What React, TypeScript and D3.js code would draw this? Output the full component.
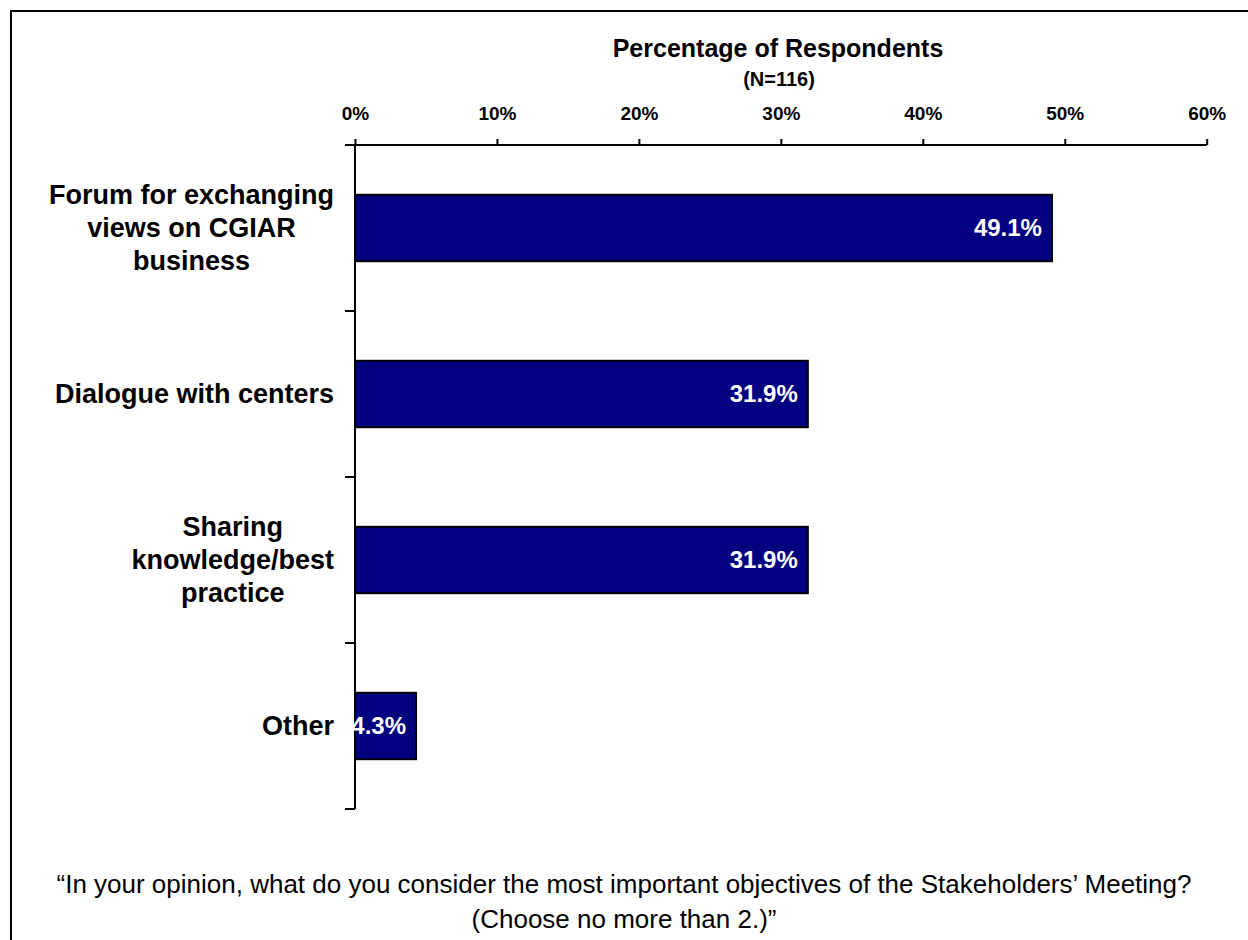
import React, { useEffect, useRef } from "react";
import * as d3 from "d3";

const categories: string[][] = [
  ["Forum for exchanging", "views on CGIAR", "business"],
  ["Dialogue with centers"],
  ["Sharing", "knowledge/best", "practice"],
  ["Other"],
];
const values: number[] = [49.1, 31.9, 31.9, 4.3];
const valueLabels: string[] = ["49.1%", "31.9%", "31.9%", "4.3%"];
const xTicks: number[] = [0, 10, 20, 30, 40, 50, 60];
const axisTitle = "Percentage of Respondents";
const axisSubtitle = "(N=116)";
const captionLines: string[] = [
  "\u201CIn your opinion, what do you consider the most important objectives of the Stakeholders\u2019 Meeting?",
  "(Choose no more than 2.)\u201D",
];

const W = 1248;
const H = 940;
const FONT = "Liberation Sans, Arial, Helvetica, sans-serif";

export default function App() {
  const ref = useRef<SVGSVGElement | null>(null);

  useEffect(() => {
    const svg = d3.select(ref.current);
    svg.selectAll("*").remove();

    const left = 355;
    const right = 1206.7;
    const top = 145;
    const bottom = 809;

    const x = d3.scaleLinear().domain([0, 60]).range([left, right]);
    const y = d3
      .scaleBand<number>()
      .domain(d3.range(categories.length))
      .range([top, bottom])
      .paddingInner(0.6)
      .paddingOuter(0.3);

    // frame
    svg
      .append("rect")
      .attr("x", 11)
      .attr("y", 11)
      .attr("width", W + 50)
      .attr("height", H + 50)
      .attr("fill", "none")
      .attr("stroke", "#000")
      .attr("stroke-width", 2);

    // bars
    svg
      .append("g")
      .selectAll("rect")
      .data(values)
      .join("rect")
      .attr("x", x(0))
      .attr("y", (_d, i) => y(i)!)
      .attr("width", (d) => x(d) - x(0))
      .attr("height", y.bandwidth())
      .attr("fill", "#000080")
      .attr("stroke", "#000")
      .attr("stroke-width", 2);

    // x axis (top)
    const xAxis = d3
      .axisTop(x)
      .tickValues(xTicks)
      .tickSize(6)
      .tickPadding(19)
      .tickFormat((d) => `${d}%`);
    const gx = svg.append("g").attr("transform", `translate(0,${top})`).call(xAxis);
    gx.select(".domain").remove();
    gx.selectAll(".tick line").attr("stroke", "#000").attr("stroke-width", 2);
    gx.selectAll(".tick text")
      .attr("fill", "#000")
      .attr("font-family", FONT)
      .attr("font-size", 19)
      .attr("font-weight", "bold");
    gx.append("line")
      .attr("x1", left - 10)
      .attr("x2", right)
      .attr("y1", 0)
      .attr("y2", 0)
      .attr("stroke", "#000")
      .attr("stroke-width", 2);

    // y axis
    const step = y.step();
    const boundaries = d3.range(categories.length + 1).map((i) => top + i * step);
    const gy = svg.append("g");
    gy.append("line")
      .attr("x1", left)
      .attr("x2", left)
      .attr("y1", top)
      .attr("y2", bottom)
      .attr("stroke", "#000")
      .attr("stroke-width", 2);
    gy.selectAll("line.tk")
      .data(boundaries)
      .join("line")
      .attr("class", "tk")
      .attr("x1", left - 10)
      .attr("x2", left)
      .attr("y1", (d) => d)
      .attr("y2", (d) => d)
      .attr("stroke", "#000")
      .attr("stroke-width", 2);

    // category labels
    const lineH = 33;
    const labelRight = 334;
    categories.forEach((lines, i) => {
      const cy = y(i)! + y.bandwidth() / 2;
      const g = svg.append("g");
      const texts = lines.map((ln, j) =>
        g
          .append("text")
          .attr("text-anchor", "middle")
          .attr("font-family", FONT)
          .attr("font-size", 27)
          .attr("font-weight", "bold")
          .attr("fill", "#000")
          .attr("y", cy + 9 + (j - (lines.length - 1) / 2) * lineH)
          .text(ln)
      );
      const maxW = d3.max(texts, (t) => (t.node() as SVGTextElement).getComputedTextLength()) || 0;
      texts.forEach((t) => t.attr("x", labelRight - maxW / 2));
    });

    // value labels
    svg
      .append("g")
      .selectAll("text")
      .data(values)
      .join("text")
      .attr("x", (d) => x(d) - 10)
      .attr("y", (_d, i) => y(i)! + y.bandwidth() / 2 + 8)
      .attr("text-anchor", "end")
      .attr("font-family", FONT)
      .attr("font-size", 24)
      .attr("font-weight", "bold")
      .attr("fill", "#fff")
      .text((_d, i) => valueLabels[i]);

    // titles
    svg
      .append("text")
      .attr("x", 778)
      .attr("y", 57)
      .attr("text-anchor", "middle")
      .attr("font-family", FONT)
      .attr("font-size", 25)
      .attr("font-weight", "bold")
      .text(axisTitle);
    svg
      .append("text")
      .attr("x", 779)
      .attr("y", 86)
      .attr("text-anchor", "middle")
      .attr("font-family", FONT)
      .attr("font-size", 20)
      .attr("font-weight", "bold")
      .text(axisSubtitle);

    // caption
    captionLines.forEach((ln, j) => {
      svg
        .append("text")
        .attr("x", 624)
        .attr("y", 893 + j * 35)
        .attr("text-anchor", "middle")
        .attr("font-family", FONT)
        .attr("font-size", 26)
        .attr("fill", "#000")
        .text(ln);
    });
  }, []);

  return (
    <svg
      ref={ref}
      width={W}
      height={H}
      style={{ position: "absolute", left: 0, top: 0, background: "#fff" }}
    />
  );
}
